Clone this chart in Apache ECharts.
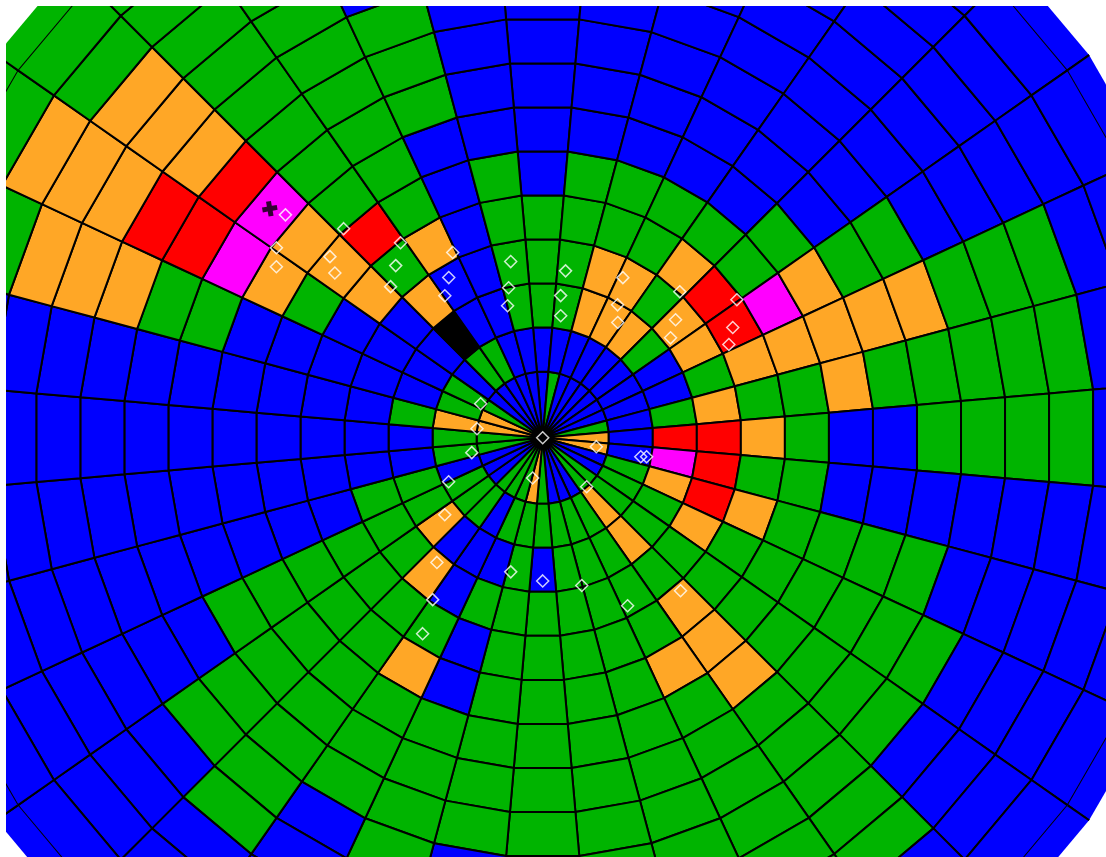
<!DOCTYPE html>
<html>
<head>
<meta charset="utf-8">
<script src="https://cdn.jsdelivr.net/npm/echarts@6/dist/echarts.min.js"></script>
<style>
html,body{margin:0;padding:0;background:#fff;width:1106px;height:857px;overflow:hidden}
#c{position:absolute;left:6px;top:6px;width:1100px;height:851px;filter:blur(0.6px)}
</style>
</head>
<body>
<div id="c"></div>
<script>
// Sector azimuths (degrees clockwise from north); each sector is 10 degrees wide
const azimuths = [0,10,20,30,40,50,60,70,80,90,100,110,120,130,140,150,160,170,180,190,200,210,220,230,240,250,260,270,280,290,300,310,320,330,340,350];
// One letter per range gate (gate 1 outward); gates not listed are B
const sectorCodes = [
"BBGGG","GBGGGG","BBOOGG","BBOOGG","BBOGOG","BBGORGG","BBBORMOGG","BBBGOOOOOGGG",
"GBGOGGOGGGGG","OBRROGBBGGGG","OBMRGG","BGOROGGGG","BGGOGGGGGG","GGGGGGGGGG",
"GOOGOOOGGGGG","BGGGGOGGGGGG","BGGGGGGGGGGGG","BGGGGGGGGGGGG","GGBGGGGGGGGGG",
"OGGGGGGGGB","GGBGBBGGGGG","GBBBGOGGGB","GGBOGGGGGGG","BGOGGGGGGG","BGGGGGGG","BBGG",
"GG","GG","OOG","OGBBBBBGGOOOGG","GGBBBGOMRROOOGG","BBBBOOOMROOOGGG","BGKOGRGGGGGGGGG",
"BGBBOGGGGGGGGGG","BBBBBBBGGG","BBGGGG"
];
const gateCount = 15;
const sectorWidth = 10;
const outerRange = 15.09;
const colorKeys = ["B","G","O","R","M","K"];
const colorValues = ["#0000ff","#00b400","#ffa726","#ff0000","#ff00ff","#000000"];
// Marker positions: range in gates, azimuth in degrees
const stationRange = [7.70,6.53,5.46,4.66,7.40,7.16,6.32,6.00,5.12,4.85,4.20,3.90,4.05,3.48,3.09,3.81,3.24,2.79,4.05,3.45,3.11,4.53,4.02,3.67,5.39,4.97,4.71,1.60,1.50,1.64,2.35,2.82,3.70,4.43,5.20,3.12,3.24,3.46,4.26,4.66,1.49,1.23,2.26,2.39,0.94,0];
const stationAzimuth = [310.9,316.4,323.9,334.1,305.5,302.7,310.4,308.4,319.5,314.8,329.6,325.4,349.7,347.2,345.1,7.8,7.2,8.4,26.6,29.4,33.1,43.2,48.4,52.0,54.6,59.9,63.4,298.7,277.8,258.1,244.9,231.8,220.3,214.2,211.5,193.4,180,165.2,153.2,138,138.1,99.5,101,100.4,194,0];
const crossPoint = [8.06,310];

const cells = [];
azimuths.forEach(function(az,i){
  for(let g=1;g<=gateCount;g++){
    const code = sectorCodes[i][g-1] || "B";
    cells.push([g===1?0:g-0.5, g===gateCount?outerRange:g+0.5, az-sectorWidth/2, az+sectorWidth/2, colorKeys.indexOf(code), g]);
  }
});
const stations = stationRange.map(function(r,i){return [r,stationAzimuth[i]];});

function renderCell(params,api){
  const r0v=api.value(0), r1v=api.value(1), a0=api.value(2), a1=api.value(3);
  const ia = api.coord([r0v,a0]), oa = api.coord([r1v,a0]), ob = api.coord([r1v,a1]), ib = api.coord([r0v,a1]);
  const fill = colorValues[api.value(4)];
  const pts = [ia,oa,ob,ib];
  if(api.value(5)===gateCount){
    const line={stroke:"#000",lineWidth:2};
    return {type:"group",children:[
      {type:"polygon",shape:{points:pts},style:{fill:fill}},
      {type:"line",shape:{x1:ia[0],y1:ia[1],x2:oa[0],y2:oa[1]},style:line},
      {type:"line",shape:{x1:ib[0],y1:ib[1],x2:ob[0],y2:ob[1]},style:line}
    ]};
  }
  return {type:"polygon",shape:{points:pts},style:{fill:fill,stroke:"#000",lineWidth:2,lineJoin:"round"}};
}

const chart = echarts.init(document.getElementById("c"),null,{renderer:"canvas"});
chart.setOption({
  animation:false,
  backgroundColor:"#fff",
  polar:{center:[536.7,431.7],radius:667},
  angleAxis:{type:"value",min:0,max:360,startAngle:90,clockwise:true,show:false},
  radiusAxis:{type:"value",min:0,max:outerRange,show:false},
  series:[
    {type:"custom",coordinateSystem:"polar",renderItem:renderCell,data:cells,silent:true,clip:false,z:1,
     encode:{radius:1,angle:3}},
    {type:"scatter",coordinateSystem:"polar",data:stations,symbol:"diamond",symbolSize:12,silent:true,z:3,
     itemStyle:{color:"rgba(0,0,0,0)",borderColor:"#fff",borderWidth:1.5}},
    {type:"scatter",coordinateSystem:"polar",data:[crossPoint],silent:true,z:4,
     symbol:"path://M4,0h4v4h4v4h-4v4h-4v-4h-4v-4h4z",symbolSize:15,symbolRotate:10,
     itemStyle:{color:"#000"}}
  ]
});
</script>
</body>
</html>
